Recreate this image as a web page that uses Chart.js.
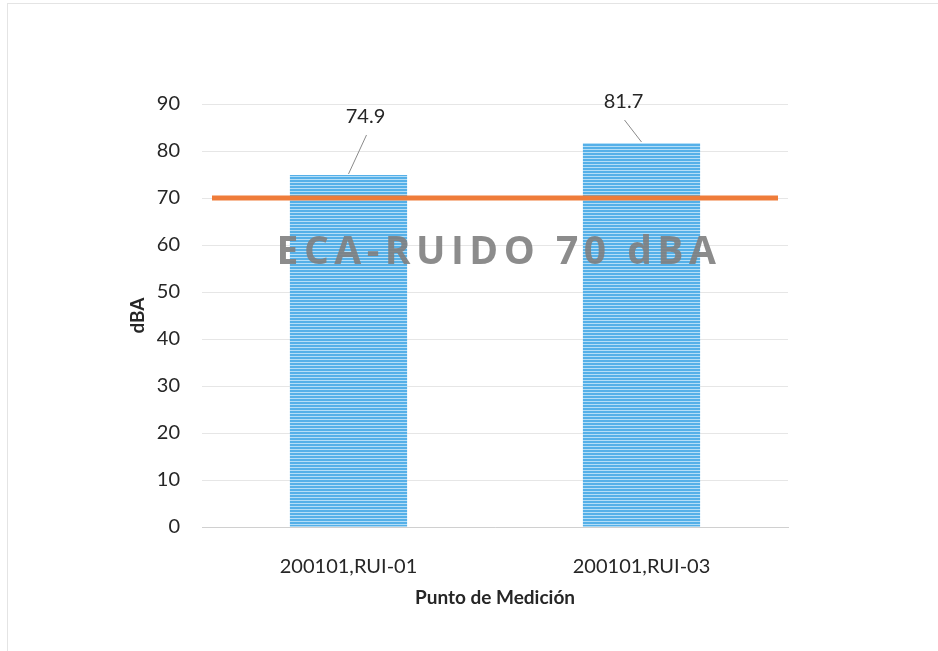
<!DOCTYPE html>
<html><head><meta charset="utf-8">
<script src="https://cdn.jsdelivr.net/npm/chart.js@4/dist/chart.umd.min.js"></script>
<style>
html,body{margin:0;padding:0;background:#fff;}
#wrap{position:relative;width:938px;height:651px;}
#wrap:before{content:"";position:absolute;left:7px;top:3px;right:0;bottom:0;border-left:1px solid #e4e4e4;border-top:1px solid #e4e4e4;pointer-events:none;}
</style></head>
<body><div id="wrap"><canvas id="c" width="938" height="651"></canvas></div>
<script>
const categories = ["200101,RUI-01", "200101,RUI-03"];
const values = [74.9, 81.7];
const limitValue = [70];
const yTicks = [0,10,20,30,40,50,60,70,80,90];
const watermarkText = "ECA-RUIDO 70 dBA";
const yTitle = "dBA";
const xTitle = "Punto de Medición";

// label placement (style): pixel offsets of each data label from its bar top centre
const labelStyle = [{dx:17, dy:-58}, {dx:-18, dy:-41}];

function stripePattern(){
  const p = document.createElement('canvas'); p.width = 4; p.height = 3;
  const g = p.getContext('2d');
  g.fillStyle = '#b4def7'; g.fillRect(0,0,4,3);
  g.fillStyle = '#55b0e8'; g.fillRect(0,0,4,2);
  return document.getElementById('c').getContext('2d').createPattern(p,'repeat');
}

const overlay = {
  id:'overlay',
  afterDatasetsDraw(chart){
    const ctx = chart.ctx, y = chart.scales.y, a = chart.chartArea;
    const ly = y.getPixelForValue(limitValue[0]);
    ctx.save();
    ctx.strokeStyle = '#ef7c3a'; ctx.lineWidth = 5;
    ctx.beginPath(); ctx.moveTo(a.left+10, ly); ctx.lineTo(a.right-10, ly); ctx.stroke();
    ctx.font = 'bold 39px "Open Sans"';
    ctx.letterSpacing = '5.5px';
    ctx.fillStyle = 'rgba(128,128,128,0.9)';
    ctx.textAlign = 'center'; ctx.textBaseline = 'middle';
    ctx.fillText(watermarkText, (a.left+a.right)/2 + 4, y.getPixelForValue(58.4));
    ctx.letterSpacing = '0px';
    const meta = chart.getDatasetMeta(0);
    ctx.font = '20px Lato'; ctx.fillStyle = '#262626';
    meta.data.forEach((bar,i)=>{
      const v = values[i], s = labelStyle[i];
      const tx = bar.x + s.dx, ty = bar.y + s.dy;
      ctx.fillText(v.toFixed(1), tx, ty);
      ctx.strokeStyle = '#8a8a8a'; ctx.lineWidth = 1;
      ctx.beginPath(); ctx.moveTo(tx + 1, ty + 18); ctx.lineTo(bar.x, bar.y - 1); ctx.stroke();
    });
    ctx.restore();
  }
};

new Chart(document.getElementById('c'), {
  type:'bar',
  data:{labels:categories, datasets:[{data:values, backgroundColor:stripePattern(), borderWidth:0, barPercentage:0.8, categoryPercentage:0.5}]},
  options:{
    responsive:false, animation:false,
    layout:{padding:{left:122, right:150, top:104, bottom:42}},
    plugins:{legend:{display:false}, tooltip:{enabled:false}},
    scales:{
      x:{grid:{display:false}, border:{color:'#d0d0d0', width:1},
        afterFit(s){ s.height = 82; },
        ticks:{color:'#262626', font:{family:'Lato', size:20}, padding:20},
        title:{display:true, text:xTitle, color:'#262626', font:{family:'Lato', size:19, weight:'bold'}, padding:{top:0, bottom:0}}},
      y:{min:0, max:90, afterBuildTicks(s){ s.ticks = yTicks.map(v=>({value:v})); },
        afterFit(s){ s.width = 80; },
        grid:{color:'#e6e6e6', drawTicks:false}, border:{display:false},
        ticks:{color:'#262626', font:{family:'Lato', size:20}, padding:22},
        title:{display:true, text:yTitle, color:'#262626', font:{family:'Lato', size:19, weight:'bold'}, padding:{top:4, bottom:0}}}
    }
  },
  plugins:[overlay]
});
</script></body></html>
